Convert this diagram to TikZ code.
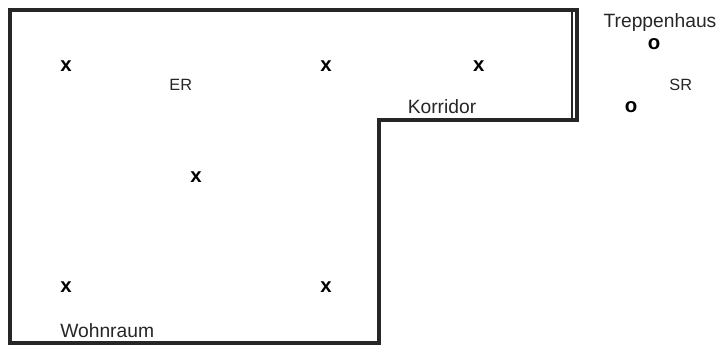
\documentclass[tikz,border=0pt]{standalone}
\usepackage{fontspec}
\setmainfont{Liberation Sans}
\tikzset{
  wall/.style={line width=2.5pt,black!85},
  sensor/.style={font=\fontsize{14.5}{16}\selectfont\bfseries,inner sep=0pt},
  room/.style={font=\fontsize{13.7}{16}\selectfont,inner sep=0pt,black!85},
  sub/.style={font=\fontsize{11.6}{14}\selectfont,inner sep=0pt,black!85}
}
\begin{document}
\begin{tikzpicture}
\useasboundingbox (0,0) rectangle (17.95,8.625);
% walls
\draw [wall,line join=miter] (0.25,8.375) -- (14.43,8.375) -- (14.43,5.625) -- (9.48,5.625) -- (9.48,0.05) -- (0.25,0.05) -- cycle;
\draw [line width=1.5pt,black!85] (14.3,8.375) -- (14.3,5.625);
% sensors
\node [sensor] (x1) at (1.65,6.975) {x};
\node [sensor] (x2) at (8.15,6.975) {x};
\node [sensor] (x3) at (11.97,6.975) {x};
\node [sensor] (x4) at (4.9,4.205) {x};
\node [sensor] (x5) at (1.65,1.445) {x};
\node [sensor] (x6) at (8.15,1.445) {x};
\node [sensor] (o1) at (16.35,7.525) {o};
\node [sensor] (o2) at (15.78,5.945) {o};
% labels
\node [sub] (er) at (4.52,6.5) {ER};
\node [sub] (sr) at (17.02,6.5) {SR};
\node [room] (korridor) at (11.05,5.95) {Korridor};
\node [room] (treppenhaus) at (16.5,8.05) {Treppenhaus};
\node [room] (wohnraum) at (2.68,0.36) {Wohnraum};
\end{tikzpicture}
\end{document}
